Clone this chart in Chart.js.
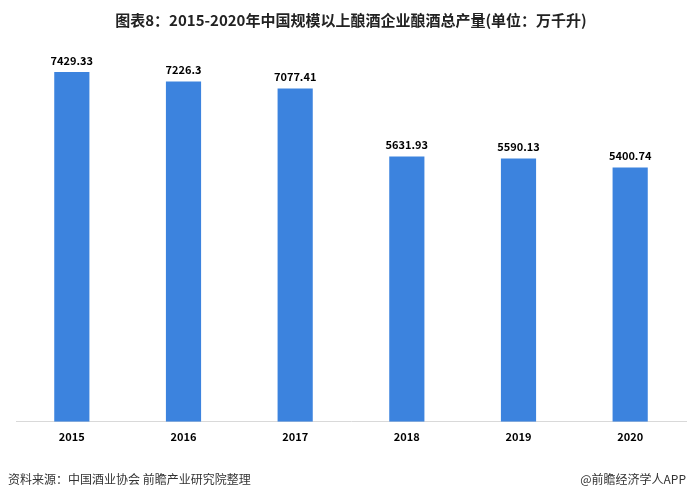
<!DOCTYPE html>
<html>
<head>
<meta charset="utf-8">
<script src="https://cdn.jsdelivr.net/npm/chart.js@4/dist/chart.umd.min.js"></script>
<style>
  body { margin: 0; background: #fff; font-family: "Noto Sans CJK SC", sans-serif; }
  #wrap { position: relative; width: 690px; height: 501px; }
  .src { position: absolute; top: 470px; font-size: 12px; color: #333; }
</style>
</head>
<body>
<div id="wrap">
  <canvas id="outputChart" width="690" height="501"></canvas>
  <div class="src" style="left:8px;">资料来源：中国酒业协会 前瞻产业研究院整理</div>
  <div class="src" style="right:4px;">@前瞻经济学人APP</div>
</div>
<script>
const years = ['2015', '2016', '2017', '2018', '2019', '2020'];
const output = [7429.33, 7226.3, 7077.41, 5631.93, 5590.13, 5400.74];
const outputLabels = ['7429.33', '7226.3', '7077.41', '5631.93', '5590.13', '5400.74'];

// draw the value above each bar
const barValues = {
    id: 'barValues',
    afterDatasetsDraw(chart) {
        const ctx = chart.ctx;
        const meta = chart.getDatasetMeta(0);
        ctx.save();
        ctx.font = 'bold 11px "Noto Sans CJK SC", sans-serif';
        ctx.fillStyle = '#000';
        ctx.textAlign = 'center';
        ctx.textBaseline = 'bottom';
        meta.data.forEach(function (bar, i) {
            ctx.fillText(outputLabels[i], bar.x, bar.y - 6);
        });
        ctx.restore();
    }
};

const ctx = document.getElementById('outputChart').getContext('2d');
const outputChart = new Chart(ctx, {
    type: 'bar',
    data: {
        labels: years,
        datasets: [{
            label: '酿酒总产量',
            data: output,
            backgroundColor: '#3c83de',
            barPercentage: 0.315,
            categoryPercentage: 1
        }]
    },
    options: {
        responsive: false,
        animation: false,
        layout: {
            padding: { left: 16, right: 4, top: 0, bottom: 50 }
        },
        plugins: {
            legend: { display: false },
            tooltip: { enabled: false },
            title: {
                display: true,
                text: '图表8：2015-2020年中国规模以上酿酒企业酿酒总产量(单位：万千升)',
                color: '#222',
                font: { size: 15, weight: 'bold', family: '"Noto Sans CJK SC", sans-serif' },
                padding: { top: 11, bottom: 16 }
            }
        },
        scales: {
            x: {
                grid: { display: false, drawTicks: false },
                border: { color: '#d9d9d9' },
                ticks: {
                    color: '#000',
                    padding: 8,
                    font: { size: 11, weight: 'bold', family: '"Noto Sans CJK SC", sans-serif' }
                }
            },
            y: {
                display: false,
                min: 0,
                max: 8000
            }
        }
    },
    plugins: [barValues]
});
</script>
</body>
</html>
